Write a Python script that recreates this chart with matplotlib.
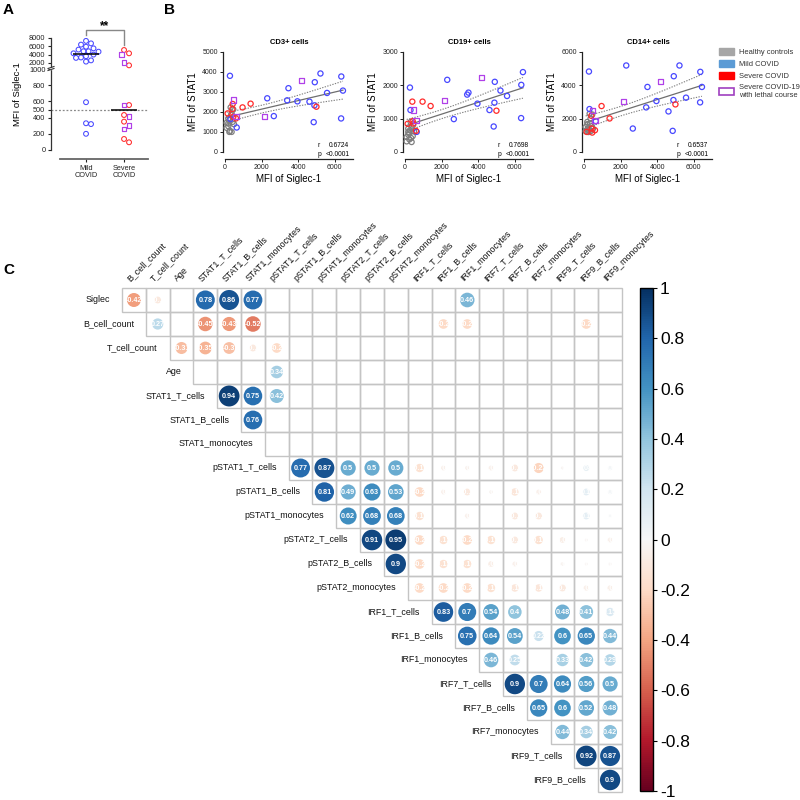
import numpy as np
import matplotlib
matplotlib.use('Agg')
import matplotlib.pyplot as plt
from matplotlib.patches import Circle, Rectangle, Patch
from matplotlib.lines import Line2D
from matplotlib.cm import ScalarMappable
from matplotlib.colors import Normalize
import matplotlib.transforms as mtransforms

plt.rcParams['font.family'] = ['Liberation Sans', 'DejaVu Sans']

# ---------------- Panel A data ----------------
groups_A = ['Mild\nCOVID', 'Severe\nCOVID']
mild_siglec = [7300, 6700, 6400, 5900, 5500, 5200, 4800, 4800, 4700, 4300,
               4000, 3600, 3300, 3200, 2600, 2300, 590, 330, 320, 200]
severe_red_siglec = [5100, 4300, 1400, 555, 432, 350, 136, 95]
severe_lethal_siglec = [4000, 2100, 555, 415, 300, 260]
cutoff_A = 500

# ---------------- Panel B data ----------------
panel_titles = ['CD3+ cells', 'CD19+ cells', 'CD14+ cells']
panel_ylims = [5000, 3000, 6000]
panel_r = ['0.6724', '0.7698', '0.6537']
panel_p = ['<0.0001', '<0.0001', '<0.0001']

healthy_x = [90, 90, 180, 180, 180, 240, 240, 270, 310, 330, 360, 360, 420, 450, 490]
healthy_cd3 = [1460, 1208, 1680, 1290, 1426, 1594, 1006, 1057, 2231, 1845, 1006, 1930, 1510, 2130, 1392]
healthy_cd19 = [320, 450, 600, 520, 700, 380, 560, 650, 900, 420, 750, 300, 480, 820, 620]
healthy_cd14 = [1500, 1250, 1800, 1350, 1650, 1450, 1200, 1300, 2300, 1700, 1250, 2000, 1550, 2250, 1400]

mild_x = [270, 300, 640, 2310, 2670, 3400, 3470, 3960, 4620, 4850, 4890, 4910, 5220, 5580, 6350, 6360, 6450]
mild_cd3 = [3809, 1650, 1225, 2685, 1795, 2584, 3190, 2533, 2517, 1493, 2332, 3490, 3926, 2953, 1678, 3775, 3070]
mild_cd19 = [1933, 1259, 604, 2165, 987, 1722, 1782, 1450, 1259, 765, 1480, 2105, 1843, 1681, 1017, 2014, 2397]
mild_cd14 = [4829, 2575, 1851, 5191, 1408, 2676, 3903, 3058, 2435, 1268, 3119, 4547, 5191, 3260, 2978, 4809, 3903]

severe_x = [145, 400, 420, 450, 600, 960, 1400, 5000]
severe_cd3 = [1930, 2150, 2400, 1760, 1680, 2230, 2416, 2265]
severe_cd19 = [846, 1511, 926, 856, 634, 1511, 1380, 1239]
severe_cd14 = [1207, 2173, 1408, 1167, 1308, 2757, 2012, 2857]

lethal_x = [455, 600, 2180, 4180]
lethal_cd3 = [2600, 1795, 1795, 3590]
lethal_cd19 = [1259, 937, 1541, 2246]
lethal_cd14 = [2495, 1871, 3038, 4246]

legend_labels = ['Healthy controls', 'Mild COVID', 'Severe COVID', 'Severe COVID-19\nwith lethal course']

# ---------------- Panel C data ----------------
row_names = ['Siglec', 'B_cell_count', 'T_cell_count', 'Age', 'STAT1_T_cells', 'STAT1_B_cells',
             'STAT1_monocytes', 'pSTAT1_T_cells', 'pSTAT1_B_cells', 'pSTAT1_monocytes',
             'pSTAT2_T_cells', 'pSTAT2_B_cells', 'pSTAT2_monocytes', 'IRF1_T_cells', 'IRF1_B_cells',
             'IRF1_monocytes', 'IRF7_T_cells', 'IRF7_B_cells', 'IRF7_monocytes', 'IRF9_T_cells',
             'IRF9_B_cells']
col_names = row_names[1:] + ['IRF9_monocytes']
N = None
corr_rows = [
    [-0.42, -0.1, N, 0.78, 0.86, 0.77, N, N, N, N, N, N, N, N, 0.46, N, N, N, N, N, N],
    [0.27, N, -0.45, -0.43, -0.52, N, N, N, N, N, N, N, -0.2, -0.2, N, N, N, N, -0.2, N],
    [-0.31, -0.35, -0.3, -0.1, -0.2, N, N, N, N, N, N, N, N, N, N, N, N, N, N],
    [N, N, N, 0.34, N, N, N, N, N, N, N, N, N, N, N, N, N, N],
    [0.94, 0.75, 0.42, N, N, N, N, N, N, N, N, N, N, N, N, N, N],
    [0.76, N, N, N, N, N, N, N, N, N, N, N, N, N, N, N],
    [N, N, N, N, N, N, N, N, N, N, N, N, N, N, N],
    [0.77, 0.87, 0.5, 0.5, 0.5, -0.15, -0.05, -0.04, -0.05, -0.1, -0.22, -0.02, 0.08, 0.04],
    [0.81, 0.49, 0.63, 0.53, -0.2, -0.05, -0.1, -0.03, -0.12, -0.05, N, 0.1, 0.04],
    [0.62, 0.68, 0.68, -0.15, N, -0.05, N, -0.1, -0.1, N, 0.1, 0.02],
    [0.91, 0.95, -0.2, -0.15, -0.2, -0.15, -0.1, -0.15, -0.07, -0.02, -0.05],
    [0.9, -0.2, -0.15, -0.15, -0.07, -0.05, N, -0.03, -0.02, -0.02],
    [-0.2, -0.2, -0.2, -0.15, -0.12, -0.12, -0.1, -0.06, -0.06],
    [0.83, 0.7, 0.54, 0.4, N, 0.48, 0.41, 0.15],
    [0.75, 0.64, 0.54, 0.22, 0.6, 0.65, 0.44],
    [0.46, 0.25, N, 0.33, 0.42, 0.29],
    [0.9, 0.7, 0.64, 0.56, 0.5],
    [0.65, 0.6, 0.52, 0.48],
    [0.44, 0.34, 0.42],
    [0.92, 0.87],
    [0.9],
]
cbar_ticks = [1, 0.8, 0.6, 0.4, 0.2, 0, -0.2, -0.4, -0.6, -0.8, -1]

# ---------------- style ----------------
C_GRAY = '#7f7f7f'
C_BLUE = '#4848FF'
C_RED = '#FF2A2A'
C_PURPLE = '#B040E8'

W = H = 800
fig = plt.figure(figsize=(8, 8), dpi=100)


def px_axes(left, top, right, bottom):
    return fig.add_axes([left / W, 1 - bottom / H, (right - left) / W, (bottom - top) / H])


def px2pt(p):
    return p * 72 / 100


# ================= Panel A =================
axL = px_axes(60, 69, 148, 150)
axU = px_axes(60, 38, 148, 67)
xl = (-0.684, 1.63)
for ax in (axL, axU):
    ax.set_xlim(*xl)
    ax.spines['top'].set_visible(False)
    ax.spines['right'].set_visible(False)
    ax.spines['left'].set_position(('outward', px2pt(9)))
    ax.spines['left'].set_color('#333333')
    ax.spines['left'].set_linewidth(0.9)
    ax.tick_params(axis='y', labelsize=5.3, length=2.5, width=0.8, pad=1.5, colors='#222222')
axL.set_ylim(0, 1000)
axU.set_ylim(1000, 8000)
axU.spines['bottom'].set_visible(False)
axU.set_xticks([])
axL.spines['bottom'].set_position(('outward', px2pt(9)))
axL.spines['bottom'].set_color('#666666')
axL.spines['bottom'].set_linewidth(1.3)
axL.set_yticks([0, 200, 400, 500, 600, 800, 1000])
axU.set_yticks([2000, 4000, 6000, 8000])
axL.set_xticks([0, 1])
axL.set_xticklabels(groups_A, fontsize=5.3, linespacing=1.0)
axL.tick_params(axis='x', length=2.5, width=0.8, pad=2, colors='#222222')
axU.spines['left'].set_bounds(1000, 8000)


def ypix(v):
    return v * 0.081 if v <= 1000 else 83 + (v - 1000) * 29 / 7000


def swarm(values, d=5.0, unit_px=38.0):
    vals = np.asarray(values, float)
    order = np.argsort(-vals)
    placed = []
    offs = np.zeros(len(vals))
    for idx in order:
        y = ypix(vals[idx])
        for k in [0, 1, -1, 2, -2, 3, -3, 4, -4, 5, -5, 6, -6]:
            x = k * d / 2
            if all((x - px) ** 2 + (y - py) ** 2 >= d * d for px, py in placed):
                break
        placed.append((x, y))
        offs[idx] = x / unit_px
    return offs


def plot_split(xc, vals, offs, **kw):
    vals = np.asarray(vals, float)
    lo = vals <= 1000
    axL.scatter(xc + offs[lo], vals[lo], clip_on=False, zorder=3, **kw)
    axU.scatter(xc + offs[~lo], vals[~lo], clip_on=False, zorder=3, **kw)


mo = swarm(mild_siglec)
plot_split(0, mild_siglec, mo, s=12, facecolors='none', edgecolors=C_BLUE, linewidths=0.75)
sev_all = severe_red_siglec + severe_lethal_siglec
so = swarm(sev_all)
nred = len(severe_red_siglec)
plot_split(1, severe_red_siglec, so[:nred], s=12, facecolors='none', edgecolors=C_RED, linewidths=0.75)
plot_split(1, severe_lethal_siglec, so[nred:], s=12, marker='s', facecolors='none',
           edgecolors=C_PURPLE, linewidths=0.85)

for xc, vals in ((0, mild_siglec), (1, sev_all)):
    med = np.median(vals)
    axm = axL if med <= 1000 else axU
    axm.plot([xc - 0.34, xc + 0.34], [med, med], color='black', lw=1.1, zorder=4, solid_capstyle='butt')

trL = mtransforms.blended_transform_factory(axL.transAxes, axL.transData)
axL.plot([-0.10, 1.0], [cutoff_A, cutoff_A], transform=trL, ls=(0, (1.5, 1.5)), color='#888888',
         lw=0.9, clip_on=False, zorder=1)

trU = mtransforms.blended_transform_factory(axU.transData, axU.transAxes)
axU.plot([0, 0, 1, 1], [1.10, 1.276, 1.276, 0.76], transform=trU, color='#888888', lw=1.0, clip_on=False)
axU.text(0.5, 1.42, '**', transform=trU, ha='center', va='center', fontsize=8.5, fontweight='bold')

# break marks on y axis
for yy in (67.5, 69.5):
    fig.add_artist(Line2D([48 / W, 54 / W], [1 - (yy + 1) / H, 1 - (yy - 1) / H], color='#333333', lw=0.8))
fig.add_artist(Rectangle((49.5 / W, 1 - 69 / H), 3 / W, 1.5 / H, color='white', transform=fig.transFigure))

fig.text(18 / W, 1 - 94 / H, 'MFI of Siglec-1', rotation=90, ha='center', va='center', fontsize=6.8)

# ================= Panel B =================
b_lefts = [225, 405, 584]
ys_by_group = [
    (healthy_x, [healthy_cd3, healthy_cd19, healthy_cd14], C_GRAY, 'o'),
    (mild_x, [mild_cd3, mild_cd19, mild_cd14], C_BLUE, 'o'),
    (severe_x, [severe_cd3, severe_cd19, severe_cd14], C_RED, 'o'),
    (lethal_x, [lethal_cd3, lethal_cd19, lethal_cd14], C_PURPLE, 's'),
]
for k in range(3):
    ax = px_axes(b_lefts[k], 52, b_lefts[k] + 128, 152)
    ax.set_xlim(0, 7000)
    ax.set_ylim(0, panel_ylims[k])
    ax.spines['top'].set_visible(False)
    ax.spines['right'].set_visible(False)
    ax.spines['bottom'].set_position(('outward', px2pt(7)))
    ax.spines['left'].set_position(('outward', px2pt(2)))
    for sp in ('bottom', 'left'):
        ax.spines[sp].set_linewidth(0.9)
        ax.spines[sp].set_color('#222222')
    ax.set_xticks([0, 2000, 4000, 6000])
    step = 1000 if panel_ylims[k] <= 5000 else 2000
    ax.set_yticks(np.arange(0, panel_ylims[k] + 1, step))
    ax.tick_params(labelsize=5, length=2.2, width=0.7, pad=1.5, colors='#222222')
    ax.set_title(panel_titles[k], fontsize=5.5, fontweight='bold', pad=6)
    ax.set_xlabel('MFI of Siglec-1', fontsize=7, labelpad=2)
    ax.set_ylabel('MFI of STAT1', fontsize=7, labelpad=3)

    allx, ally = [], []
    for gx, gys, col, mk in ys_by_group:
        ax.scatter(gx, gys[k], s=14, marker=mk, facecolors='none', edgecolors=col,
                   linewidths=0.9, zorder=3, clip_on=False)
        allx += list(gx)
        ally += list(gys[k])
    allx = np.array(allx, float)
    ally = np.array(ally, float)
    b1, b0 = np.polyfit(allx, ally, 1)
    n = len(allx)
    xs = np.linspace(allx.min(), allx.max(), 100)
    yhat = b0 + b1 * xs
    resid = ally - (b0 + b1 * allx)
    s_err = np.sqrt(np.sum(resid ** 2) / (n - 2))
    xm = allx.mean()
    se = s_err * np.sqrt(1 / n + (xs - xm) ** 2 / np.sum((allx - xm) ** 2))
    tval = 2.018
    ax.plot(xs, yhat, color='#6e6e6e', lw=0.9, zorder=2)
    ax.plot(xs, yhat + tval * se, color='#808080', lw=0.8, ls=(0, (1.2, 1.2)), zorder=2)
    ax.plot(xs, yhat - tval * se, color='#808080', lw=0.8, ls=(0, (1.2, 1.2)), zorder=2)

    ax.text(0.72, 0.065, 'r', transform=ax.transAxes, fontsize=4.8, ha='left', va='center')
    ax.text(0.97, 0.065, panel_r[k], transform=ax.transAxes, fontsize=4.8, ha='right', va='center')
    ax.text(0.72, -0.02, 'p', transform=ax.transAxes, fontsize=4.8, ha='left', va='center')
    ax.text(0.97, -0.02, panel_p[k], transform=ax.transAxes, fontsize=4.8, ha='right', va='center')

handles = [Patch(facecolor='#a6a6a6', edgecolor='#a6a6a6'),
           Patch(facecolor='#5b9bd5', edgecolor='#5b9bd5'),
           Patch(facecolor='#ff0000', edgecolor='#ff0000'),
           Patch(facecolor='white', edgecolor='#a040c0', linewidth=1.2)]
fig.legend(handles, legend_labels, loc='upper left', bbox_to_anchor=(716 / W, 1 - 45 / H),
           frameon=False, fontsize=5.4, handlelength=2.0, handleheight=1.1, labelspacing=0.5,
           handletextpad=0.7, borderaxespad=0, labelcolor='#333333')

# ================= Panel C =================
axc = px_axes(122, 288, 622, 792)
ncol = len(col_names)
axc.set_xlim(0, ncol)
axc.set_ylim(len(row_names), 0)
axc.axis('off')
cmap = plt.get_cmap('RdBu')
norm = Normalize(-1, 1)
for i, row in enumerate(corr_rows):
    for jj, v in enumerate(row):
        j = i + jj
        axc.add_patch(Rectangle((j, i), 1, 1, facecolor='none', edgecolor='#c4c4c4', lw=1.0, zorder=1,
                                clip_on=False))
        if v is None:
            continue
        r = 0.45 * np.sqrt(abs(v))
        axc.add_patch(Circle((j + 0.5, i + 0.5), r, facecolor=cmap(norm(v)), edgecolor='none', zorder=2,
                             clip_on=False))
        axc.text(j + 0.5, i + 0.5, f'{v:g}', ha='center', va='center', color='white', fontsize=5.2,
                 fontweight='bold', zorder=3)
for i, name in enumerate(row_names):
    axc.text(i - 0.5, i + 0.5, name, ha='right', va='center', fontsize=6.4, color='#111111')
for j, name in enumerate(col_names):
    axc.text(j + 0.4, -0.2, name, ha='left', va='bottom', rotation=45, rotation_mode='anchor',
             fontsize=6.4, color='#111111')

cax = px_axes(640, 288, 653, 791)
cb = fig.colorbar(ScalarMappable(norm=norm, cmap=cmap), cax=cax)
cb.set_ticks(cbar_ticks)
cb.set_ticklabels([f'{t:g}' for t in cbar_ticks])
cb.ax.tick_params(labelsize=12.5, length=3, width=0.8, pad=2)
cb.outline.set_linewidth(1.0)

# panel letters
fig.text(3 / W, 1 - 10 / H, 'A', fontsize=11, fontweight='bold', va='center', ha='left')
fig.text(164 / W, 1 - 10 / H, 'B', fontsize=11, fontweight='bold', va='center', ha='left')
fig.text(3 / W, 1 - 270 / H, 'C', fontsize=11, fontweight='bold', va='center', ha='left')

fig.savefig('out.png', dpi=100)
